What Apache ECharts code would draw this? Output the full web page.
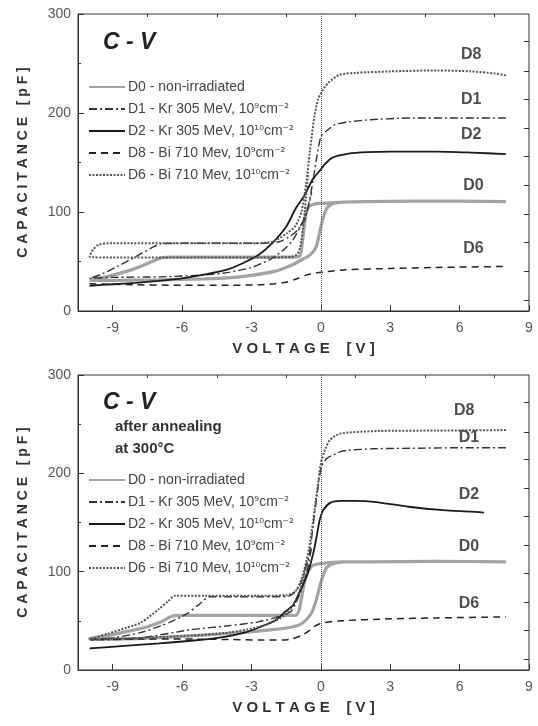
<!DOCTYPE html>
<html>
<head>
<meta charset="utf-8">
<script src="https://cdn.jsdelivr.net/npm/echarts@6/dist/echarts.min.js"></script>
<style>
  html, body { margin: 0; padding: 0; background: #fff; }
  #chart { width: 538px; height: 726px; }
</style>
</head>
<body>
<div id="chart"></div>
<script>
// tick positions
const xMajorTicks = [-9, -6, -3, 0, 3, 6, 9];
const xMinorTicks = [-7.5, -4.5, -1.5, 1.5, 4.5, 7.5];
const rightTicks = [11, 40, 69, 98, 127, 156, 185, 214, 242, 272];

const seriesNames = [
  'D0 - non-irradiated',
  'D1 - Kr 305 MeV, 10⁹cm⁻²',
  'D2 - Kr 305 MeV, 10¹⁰cm⁻²',
  'D8 - Bi 710 Mev, 10⁹cm⁻²',
  'D6 - Bi 710 Mev, 10¹⁰cm⁻²'
];

// ---- top panel: as irradiated ----  [voltage V, capacitance pF]
const topD0 = [[8,110.5],[6,111],[4,111],[2,110.5],[1,110],[0.3,109],[-0.2,108.5],[-0.5,106],[-0.63,100],[-0.72,85],[-0.8,70],[-0.9,56],[-1.2,54.5],[-3,54.5],[-5,54.5],[-6.5,54.5],[-6.85,54],[-7.3,50],[-7.8,45],[-8.4,40],[-9.2,35],[-10,31],[-9,31],[-7,31.5],[-5,32.5],[-4,33.5],[-3,36],[-2,40],[-1.3,46],[-0.8,52],[-0.45,57],[-0.2,65],[0,85],[0.15,98],[0.3,105],[0.6,109],[1,110],[2,110.5]];
const topD1 = [[8,195],[6,195],[4,195],[2,193],[1.2,191],[0.6,188],[0.2,181],[0,176],[-0.2,152],[-0.41,122],[-0.7,92],[-1,82],[-1.3,76],[-1.8,70],[-2.5,68.5],[-4,68.5],[-6,68.5],[-6.9,68],[-7.3,64],[-8,55],[-8.8,45],[-9.5,37],[-10,33],[-9,34],[-7,34.5],[-5,36.5],[-4,39],[-3,44],[-2.2,52],[-1.6,62],[-1.2,72],[-0.9,85],[-0.6,100],[-0.4,120]];
const topD2 = [[-10,25.5],[-9,27],[-8,28.5],[-7,30.5],[-6,33],[-5,37],[-4.1,41.5],[-3.4,48],[-2.7,56.5],[-2.1,68.5],[-1.5,85],[-1.1,103],[-0.7,117],[-0.35,133],[0,143],[0.2,149],[0.5,155],[1.2,159],[2,160.5],[3,161],[5,161],[6.5,160],[8,158.5]];
const topD8 = [[-10,27.5],[-9,27],[-8,26.5],[-6,26],[-4,26],[-2.7,26.5],[-2,27.5],[-1.5,29],[-1.1,32],[-0.6,36.5],[-0.2,38.5],[0.3,40],[1,41.5],[3,43],[5,44],[8,45]];
const topD6 = [[8,238],[7.5,240],[6.5,242],[5,243],[3,242],[1.5,240.5],[0.8,238.5],[0.3,230],[0,220],[-0.13,213],[-0.27,198],[-0.48,160],[-0.63,130],[-0.84,100],[-1.1,86],[-1.5,78],[-2.1,70],[-3,68.5],[-6,68.5],[-9,68.5],[-9.6,67],[-9.85,62],[-10,55],[-9,54],[-6,54],[-3,54],[-1.3,54.5],[-1,58],[-0.85,70],[-0.7,100],[-0.55,140]];
const topLabels = [[6.5,259,'D8'],[6.5,214,'D1'],[6.5,178,'D2'],[6.6,127,'D0'],[6.6,63,'D6']];

// ---- bottom panel: after annealing at 300°C ----
const botD0 = [[8,110],[5,110.5],[2,110],[1,110],[0.3,109],[-0.2,107.5],[-0.42,105],[-0.64,95],[-0.8,78],[-0.94,61],[-1.1,55.5],[-2,55.5],[-4,55.5],[-6,55.5],[-6.4,55],[-6.9,49],[-7.5,44],[-8.1,40.5],[-9,36],[-10,32],[-9,31.5],[-7,33],[-5.1,35.5],[-3.5,38],[-2.1,41],[-1.2,44],[-0.8,47.5],[-0.42,57.5],[-0.2,71],[0.03,91.5],[0.25,104],[0.6,108.5],[1,110]];
const botD1 = [[8,226],[6,226],[4,225.5],[2.3,225],[1.2,223.5],[0.85,222],[0.25,215],[0.03,207],[-0.12,186],[-0.27,159],[-0.5,118],[-0.8,92],[-1.1,80],[-1.4,75],[-2.5,74.5],[-4,74.5],[-4.8,74.5],[-5.3,66],[-5.8,57],[-6.4,50],[-6.9,45],[-7.8,38],[-8.9,33],[-10,30.5],[-8,32],[-5.6,41],[-4,45],[-2.7,49],[-1.7,55],[-1.27,60],[-0.9,78],[-0.6,100],[-0.4,125]];
const botD2 = [[-10,22],[-8.5,24.5],[-7,27],[-5.5,30],[-4.1,34],[-3.3,38],[-2.7,43],[-2,50],[-1.5,60],[-1.2,66],[-0.94,78],[-0.75,88],[-0.57,98],[-0.4,112],[-0.27,125],[-0.15,140],[-0.05,152.5],[0.1,162.5],[0.4,170],[0.85,172],[1.5,172],[2.3,171],[3.8,166],[5.3,162.5],[6.5,161],[7.05,160]];
const botD8 = [[-10,31.5],[-8,31.5],[-6,31.5],[-4,31],[-2.5,30.5],[-1.6,30.5],[-1.2,32],[-0.8,35.5],[-0.5,40],[-0.3,44],[0,47.5],[0.85,50],[3,52],[5,53],[8,54]];
const botD6 = [[8,244],[5,243.5],[2.5,243],[0.85,240.5],[0.4,234],[0.18,224],[0,210],[-0.12,190],[-0.27,163],[-0.5,125],[-0.8,95],[-1.1,80],[-1.5,76],[-3,75.5],[-5,75.5],[-6.3,75.5],[-6.6,70],[-7,62],[-7.8,48],[-8.4,43],[-9.2,37],[-10,31],[-8,32.5],[-6,34.5],[-4,38],[-2.5,45],[-1.6,55],[-1.1,70],[-0.8,90],[-0.6,110]];
const botLabels = [[6.2,264,'D8'],[6.4,236,'D1'],[6.4,178,'D2'],[6.4,125,'D0'],[6.4,68,'D6']];

const FONT = 'Liberation Sans, Arial, sans-serif';

const styles = [
  { color: '#a3a3a3', width: 3.2, type: 'solid' },
  { color: '#333', width: 1.4, type: [8, 3, 2, 3] },
  { color: '#1a1a1a', width: 1.8, type: 'solid' },
  { color: '#222', width: 1.5, type: [7, 5] },
  { color: '#555', width: 2, type: [2, 1.5] }
];

const chart = echarts.init(document.getElementById('chart'));

function xAxes(gridIndex) {
  return [
    {
      type: 'value', gridIndex, min: -10.5, max: 9,
      name: 'V O L T A G E    [ V ]', nameLocation: 'middle', nameGap: 30,
      nameTextStyle: { fontFamily: FONT, fontWeight: 'bold', fontSize: 15, color: '#333' },
      axisLine: { onZero: false, lineStyle: { color: '#333', width: 1 } },
      axisTick: { inside: true, length: 6, customValues: xMajorTicks, lineStyle: { color: '#333' } },
      axisLabel: { customValues: xMajorTicks, fontFamily: FONT, fontSize: 14, color: '#555', margin: 10 },
      splitLine: { show: false }
    },
    {
      type: 'value', gridIndex, min: -10.5, max: 9,
      axisLine: { show: false, onZero: false },
      axisTick: { inside: true, length: 3, customValues: xMinorTicks, lineStyle: { color: '#333' } },
      axisLabel: { show: false },
      splitLine: { show: false }
    }
  ];
}

function yAxes(gridIndex) {
  return [
    {
      type: 'value', gridIndex, min: 0, max: 300, interval: 100,
      name: 'C A P A C I T A N C E   [ p F ]', nameLocation: 'middle', nameGap: 48, nameRotate: 90,
      nameTextStyle: { fontFamily: FONT, fontWeight: 'bold', fontSize: 14, color: '#333' },
      axisLine: { show: true, onZero: false, lineStyle: { color: '#333', width: 1 } },
      axisTick: { inside: true, length: 6, lineStyle: { color: '#333' } },
      minorTick: { show: true, splitNumber: 2, length: 3, lineStyle: { color: '#333' } },
      axisLabel: { fontFamily: FONT, fontSize: 14, color: '#555', margin: 7 },
      splitLine: { show: false }
    },
    {
      type: 'value', gridIndex, min: 0, max: 300, position: 'right',
      axisLine: { show: false, onZero: false },
      axisTick: { inside: true, length: 5, customValues: rightTicks, lineStyle: { color: '#333' } },
      axisLabel: { show: false },
      splitLine: { show: false }
    }
  ];
}

function panelSeries(gridIndex, curves, labels) {
  const out = curves.map((data, i) => ({
    name: seriesNames[i],
    type: 'line',
    xAxisIndex: gridIndex * 2,
    yAxisIndex: gridIndex * 2,
    data,
    showSymbol: false,
    symbol: 'none',
    smooth: 0.25,
    lineStyle: styles[i],
    itemStyle: { color: styles[i].color },
    z: i === 0 ? 2 : 3
  }));
  // dotted zero-voltage line
  out[2].markLine = {
    silent: true, symbol: 'none',
    label: { show: false },
    lineStyle: { type: 'dotted', color: '#555', width: 1 },
    data: [{ xAxis: 0 }]
  };
  out.push({
    type: 'scatter',
    xAxisIndex: gridIndex * 2,
    yAxisIndex: gridIndex * 2,
    symbolSize: 0,
    data: labels,
    label: {
      show: true, position: 'inside',
      formatter: p => p.value[2],
      fontFamily: FONT, fontWeight: 'bold', fontSize: 16, color: '#222'
    },
    silent: true
  });
  return out;
}

function legendAt(top) {
  return {
    data: seriesNames, orient: 'vertical', left: 88, top,
    padding: 0,
    itemWidth: 36, itemHeight: 12, itemGap: 8,
    selectedMode: false,
    itemStyle: { opacity: 0 },
    formatter: name => name.replace(/([⁰¹²³⁴⁵⁶⁷⁸⁹⁻]+)/g, '{s|$1}'),
    textStyle: {
      fontFamily: FONT, fontSize: 14, color: '#444', padding: [0, 0, 0, -2],
      rich: { s: { fontFamily: 'DejaVu Sans', fontSize: 12, color: '#444' } }
    }
  };
}

chart.setOption({
  animation: false,
  grid: [
    { left: 78, right: 9, top: 14, height: 297, show: true, borderColor: '#333', borderWidth: 1 },
    { left: 78, right: 9, top: 375, height: 295, show: true, borderColor: '#333', borderWidth: 1 }
  ],
  legend: [legendAt(80), legendAt(473)],
  xAxis: [...xAxes(0), ...xAxes(1)],
  yAxis: [...yAxes(0), ...yAxes(1)],
  graphic: [
    { type: 'text', left: 103, top: 31, style: { text: 'C - V', font: 'italic bold 23px ' + FONT, fill: '#222' } },
    { type: 'text', left: 103, top: 391, style: { text: 'C - V', font: 'italic bold 23px ' + FONT, fill: '#222' } },
    { type: 'text', left: 115, top: 419, style: { text: 'after annealing', font: 'bold 15px ' + FONT, fill: '#333' } },
    { type: 'text', left: 115, top: 441, style: { text: 'at 300°C', font: 'bold 15px ' + FONT, fill: '#333' } }
  ],
  series: [
    ...panelSeries(0, [topD0, topD1, topD2, topD8, topD6], topLabels),
    ...panelSeries(1, [botD0, botD1, botD2, botD8, botD6], botLabels)
  ]
});
</script>
</body>
</html>
